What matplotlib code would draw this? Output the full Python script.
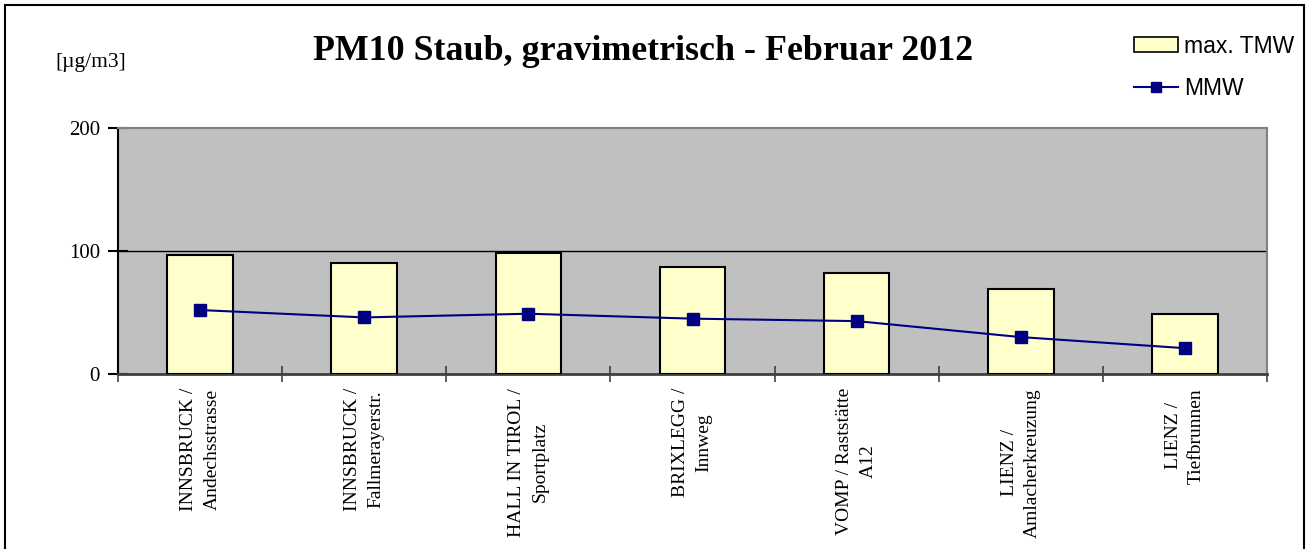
import matplotlib
matplotlib.use("Agg")
import matplotlib.pyplot as plt
from matplotlib.patches import Rectangle
from matplotlib.lines import Line2D

# values
stations = ["INNSBRUCK /\nAndechsstrasse", "INNSBRUCK /\nFallmerayerstr.",
            "HALL IN TIROL /\nSportplatz", "BRIXLEGG /\nInnweg",
            "VOMP / Raststätte\nA12", "LIENZ /\nAmlacherkreuzung",
            "LIENZ /\nTiefbrunnen"]
max_tmw = [97, 90, 98, 87, 82, 69, 49]
mmw = [52, 46, 49, 45, 43, 30, 21]
yticks = [0, 100, 200]

serif = "Liberation Serif"
sans = "Liberation Sans"

fig = plt.figure(figsize=(13.09, 5.49), dpi=100)
ax = fig.add_axes([118 / 1309, 1 - 374 / 549, 1149 / 1309, 246 / 549])
ax.set_facecolor("#c0c0c0")

x = list(range(len(stations)))
ax.bar(x, max_tmw, width=0.4, color="#ffffcc", edgecolor="black", linewidth=1.5, zorder=3)
ax.plot(x, mmw, color="#000080", linewidth=1.5, marker="s", markersize=8, zorder=4)

ax.set_xlim(-0.5, len(stations) - 0.5)
ax.set_ylim(0, 200)
ax.set_yticks(yticks)
ax.set_yticklabels([str(v) for v in yticks], fontfamily=serif, fontsize=15)
ax.axhline(100, color="black", linewidth=1, zorder=2)

# category ticks between bars, labels at bar centres
ax.set_xticks([i + 0.5 for i in range(-1, len(stations))])
ax.set_xticklabels([])
ax.set_xticks(x, minor=True)
ax.set_xticklabels(stations, minor=True, rotation=90, fontfamily=serif, fontsize=14,
                   va="top", ha="center", multialignment="center", linespacing=1.5)
ax.tick_params(axis="x", which="minor", length=0, pad=10)
ax.tick_params(axis="x", which="major", direction="inout", length=12, width=1.2, color="#404040")
ax.tick_params(axis="y", direction="inout", length=14, width=1.5, pad=6)

ax.spines["left"].set_color("black")
ax.spines["left"].set_linewidth(1.5)
ax.spines["bottom"].set_color("#404040")
ax.spines["bottom"].set_linewidth(2)
ax.spines["top"].set_color("#808080")
ax.spines["right"].set_color("#808080")
ax.spines["top"].set_linewidth(1.5)
ax.spines["right"].set_linewidth(1.5)

fig.text(643 / 1309, 1 - 51 / 549, "PM10 Staub, gravimetrisch - Februar 2012",
         ha="center", va="center", fontfamily=serif, fontsize=25.8, fontweight="bold")
fig.text(55 / 1309, 1 - 62 / 549, "[µg/m3]", ha="left", va="center",
         fontfamily=serif, fontsize=15.5)

handles = [Rectangle((0, 0), 1, 1, facecolor="#ffffcc", edgecolor="black", linewidth=1.2),
           Line2D([], [], color="#000080", linewidth=1.5, marker="s", markersize=7)]
fig.legend(handles, ["max. TMW", "MMW"], loc="upper left",
           bbox_to_anchor=(1113 / 1309, 1 - 14 / 549), frameon=False,
           prop={"family": sans, "size": 16.5}, handlelength=1.95, handleheight=0.66,
           handletextpad=0.27, labelspacing=0.85)

fig.patches.append(Rectangle((5 / 1309, -0.02), 1299 / 1309, 1.02 - 5 / 549,
                             transform=fig.transFigure, fill=False,
                             edgecolor="black", linewidth=1.5))

fig.savefig("out.png", dpi=100)
